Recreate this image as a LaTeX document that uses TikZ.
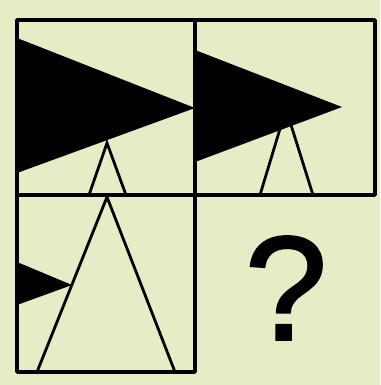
\documentclass[tikz,border=0pt]{standalone}
\usepackage{fontspec}
\setmainfont{Liberation Sans}
\newfontfamily\qfont[FakeBold=1.6]{Liberation Sans}
\definecolor{puzzlebg}{RGB}{230,237,198}
\tikzset{cell/.style={draw=black,line width=3.5pt,line join=round},
  wedge/.style={fill=black},
  opentri/.style={draw=black,line width=2.8pt,line join=miter}}
\def\WD{380}
\def\HT{385}

\begin{document}
\begin{tikzpicture}[x=1pt,y=-1pt]
  \path[use as bounding box] (0,0) rectangle (\WD,\HT);
  \fill[puzzlebg] (0,0) rectangle (\WD,\HT);

  % Outlined triangles, growing from cell to cell
  \draw[opentri] (89,195) -- (107,143) -- (126,195);
  \draw[opentri] (260,195) -- (286,109) -- (313,195);
  \draw[opentri] (37,372) -- (107,197) -- (175,372);

  % Black wedges, shrinking from cell to cell
  \fill[wedge] (17,38) -- (195,108) -- (17,173) -- cycle;
  \fill[wedge] (195,50) -- (342,107) -- (195,162) -- cycle;
  \fill[wedge] (17,262) -- (72,285) -- (17,305) -- cycle;

  % Cells
  \draw[cell] (17,20) rectangle (195,195);
  \draw[cell] (195,20) rectangle (375,195);
  \draw[cell] (17,195) rectangle (195,372);

  % Missing cell
  \node[inner sep=0pt,font=\qfont\fontsize{148}{148}\selectfont] (qmark) at (286,288) {?};
\end{tikzpicture}
\end{document}
